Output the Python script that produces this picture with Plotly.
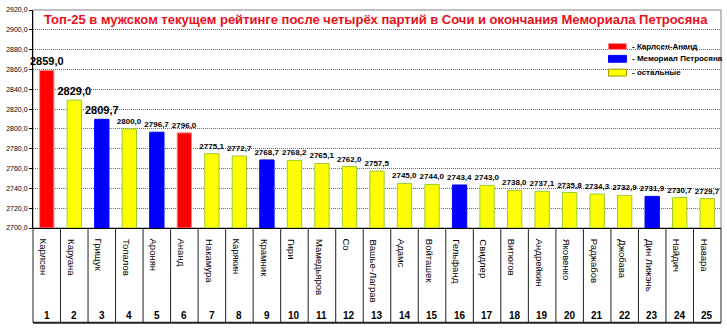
import plotly.graph_objects as go

ranks = list(range(1, 26))
names = ["Карлсен", "Каруана", "Грищук", "Топалов", "Аронян", "Ананд", "Накамура",
         "Карякин", "Крамник", "Гири", "Мамедьяров", "Со", "Вашье-Лаграв", "Адамс",
         "Войташек", "Гельфанд", "Свидлер", "Витюгов", "Андрейкин", "Яковенко",
         "Раджабов", "Джобава", "Дин Лижэнь", "Найдич", "Навара"]
ratings = [2859.0, 2829.0, 2809.7, 2800.0, 2796.7, 2796.0, 2775.1, 2772.7, 2768.7,
           2768.2, 2765.1, 2762.0, 2757.5, 2745.0, 2744.0, 2743.4, 2743.0, 2738.0,
           2737.1, 2735.8, 2734.3, 2732.9, 2731.9, 2730.7, 2729.7]
groups = ["r", "o", "b", "o", "b", "r", "o", "o", "b", "o", "o", "o", "o", "o",
          "o", "b", "o", "o", "o", "o", "o", "o", "b", "o", "o"]
legend_labels = {"r": "- Карлсен-Ананд", "b": "- Мемориал Петросяна", "o": "- остальные"}
y_ticks = [2700 + 20 * i for i in range(12)]
y_tick_text = [f"{v:.1f}".replace(".", ",") for v in y_ticks]
title = "Топ-25 в мужском текущем рейтинге после четырёх партий в Сочи и окончания Мемориала Петросяна"

fill = {"r": "#FF0000", "b": "#0000FF", "o": "#FFFF00"}
edge = {"r": "#FF8C8C", "b": "#0000FF", "o": "#99CC33"}

W, H = 727, 331
L, R, T, B = 30, 6, 7, 103
pw, ph = W - L - R, H - T - B
def px(X):
    return (X - L) / pw
def py(Y):
    return (H - B - Y) / ph

FONT = "Liberation Sans, Arial, sans-serif"

labels = [f"{v:.1f}".replace(".", ",") for v in ratings]
sizes = [11 if i < 3 else 8 for i in range(len(ratings))]

fig = go.Figure()
fig.add_trace(go.Bar(
    x=ranks, y=[v - 2700 for v in ratings], base=2700,
    width=0.52,
    marker=dict(color=[fill[g] for g in groups],
                line=dict(color=[edge[g] for g in groups], width=1)),
    text=labels, textposition="outside", constraintext="none",
    textfont=dict(family=FONT, size=sizes, color="black", weight="bold"),
    cliponaxis=False, showlegend=False, hoverinfo="skip",
))

shapes = []
annotations = []

# plot frame (gray top/right)
shapes.append(dict(type="rect", xref="paper", yref="paper", x0=0, x1=1, y0=0, y1=1,
                   line=dict(color="#808080", width=1), layer="below"))

# table under the axis
ybot = py(324)
for k in range(len(ranks) + 1):
    shapes.append(dict(type="line", xref="paper", yref="paper",
                       x0=k / len(ranks), x1=k / len(ranks), y0=0, y1=ybot,
                       line=dict(color="#222222", width=1)))
shapes.append(dict(type="line", xref="paper", yref="paper", x0=0, x1=1, y0=ybot, y1=ybot,
                   line=dict(color="#222222", width=2)))

for r, n in zip(ranks, names):
    annotations.append(dict(x=r, xref="x", y=py(237), yref="paper", text=n,
                            textangle=90, showarrow=False, xanchor="center", yanchor="top",
                            xshift=-3,
                            font=dict(family=FONT, size=9.5, color="black")))
    annotations.append(dict(x=r, xref="x", y=py(317), yref="paper", text=str(r),
                            showarrow=False, xanchor="center", yanchor="middle",
                            font=dict(family=FONT, size=10, color="black", weight="bold")))

# title
annotations.append(dict(x=px(374), xref="paper", y=py(17), yref="paper", text=title,
                        showarrow=False, xanchor="center", yanchor="middle",
                        font=dict(family=FONT, size=13, color="#E8101A", weight="bold")))

# legend (manual)
leg_rows = [("r", 41, 47, 43.5), ("b", 53, 60, 56.5), ("o", 67, 74, 70.5)]
for g, y0, y1, yt in leg_rows:
    shapes.append(dict(type="rect", xref="paper", yref="paper",
                       x0=px(608), x1=px(626), y0=py(y1), y1=py(y0),
                       fillcolor=fill[g], line=dict(color=edge[g] if g != "o" else "#999900", width=1)))
    annotations.append(dict(x=px(630), xref="paper", y=py(yt), yref="paper",
                            text=legend_labels[g], showarrow=False,
                            xanchor="left", yanchor="middle",
                            font=dict(family=FONT, size=8, color="black", weight="bold")))

fig.update_layout(
    width=W, height=H,
    margin=dict(l=L, r=R, t=T, b=B, pad=0),
    paper_bgcolor="white", plot_bgcolor="white",
    showlegend=False,
    bargap=0.48,
    shapes=shapes, annotations=annotations,
    xaxis=dict(range=[0.5, 25.5], showticklabels=False, ticks="", showgrid=False,
               showline=True, linecolor="black", linewidth=1, zeroline=False, fixedrange=True),
    yaxis=dict(range=[2700, 2920], tickvals=y_ticks, ticktext=y_tick_text,
               tickfont=dict(family=FONT, size=7, color="black"),
               ticks="outside", ticklen=3, tickcolor="black",
               showgrid=True, gridcolor="#6a6a6a", griddash="1px,1px", gridwidth=1,
               showline=True, linecolor="black", linewidth=1, zeroline=False, fixedrange=True),
)

fig.write_html("out.html")
